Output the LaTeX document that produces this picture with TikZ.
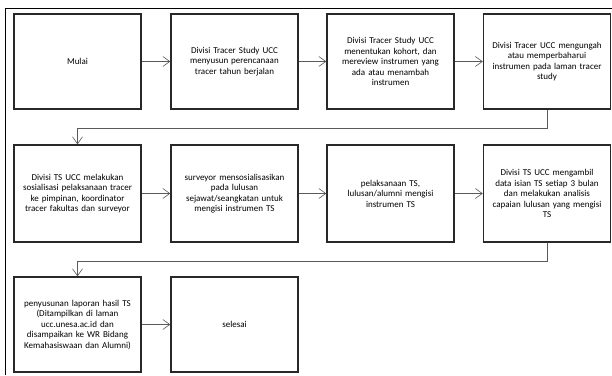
\documentclass[tikz,border=0pt]{standalone}
\usepackage{fontspec}
\setmainfont{Carlito}
\usepackage{tikz}
\usetikzlibrary{positioning, arrows.meta, calc}
\definecolor{boxline}{RGB}{40, 40, 40}
\definecolor{arrowgray}{RGB}{90, 90, 90}

\begin{document}
\begin{tikzpicture}[x=1pt, y=-1pt, font=\fontsize{9}{10.5}\selectfont,
    >={Straight Barb[length=7pt, width=10pt]},
    tahap/.style={draw=boxline, line width=1.4pt, minimum width=127pt,
      minimum height=95pt, text width=120pt, align=center, inner sep=2pt},
    panah/.style={->, arrowgray, line width=0.6pt}]
  \useasboundingbox (0,0) rectangle (612,375);
  % bingkai
  \draw[line width=0.8pt] (5,375) -- (5,8) -- (612,8);

  % baris 1
  \node[tahap] (mulai) at (77.5, 61.5) {Mulai};
  \node[tahap] (rencana) at (234.5, 61.5)
        {Divisi Tracer Study UCC\\ menyusun perencanaan\\ tracer tahun berjalan};
  \node[tahap] (kohort) at (390.5, 61.5)
        {Divisi Tracer Study UCC\\ menentukan kohort, dan\\ mereview instrumen yang\\ ada atau menambah\\ instrumen};
  \node[tahap] (unggah) at (547, 61.5)
        {Divisi Tracer UCC mengungah\\ atau memperbaharui\\ instrumen pada laman tracer\\ study};

  % baris 2
  \node[tahap, minimum height=97pt] (sosialisasi) at (77.5, 193.5)
        {Divisi TS UCC melakukan\\ sosialisasi pelaksanaan tracer\\ ke pimpinan, koordinator\\ tracer fakultas dan surveyor};
  \node[tahap, minimum height=97pt] (surveyor) at (234.5, 193.5)
        {surveyor mensosialisasikan\\ pada lulusan\\ sejawat/seangkatan untuk\\ mengisi instrumen TS};
  \node[tahap, minimum height=97pt] (pelaksanaan) at (390.5, 193.5)
        {pelaksanaan TS,\\ lulusan/alumni mengisi\\ instrumen TS};
  \node[tahap, minimum height=97pt] (analisis) at (547, 193.5)
        {Divisi TS UCC mengambil\\ data isian TS setiap 3 bulan\\ dan melakukan analisis\\ capaian lulusan yang mengisi\\ TS};

  % baris 3
  \node[tahap] (laporan) at (77.5, 324.5)
        {penyusunan laporan hasil TS\\ (Ditampilkan di laman\\ ucc.unesa.ac.id dan\\ disampaikan ke WR Bidang\\ Kemahasiswaan dan Alumni)};
  \node[tahap] (selesai) at (234.5, 324.5) {selesai};

  % panah
  \draw[panah] (mulai) -- (rencana);
  \draw[panah] (rencana) -- (kohort);
  \draw[panah] (kohort) -- (unggah);
  \draw[panah] (unggah.south) -- ++(0,19) -| (sosialisasi.north);
  \draw[panah] (sosialisasi) -- (surveyor);
  \draw[panah] (surveyor) -- (pelaksanaan);
  \draw[panah] (pelaksanaan) -- (analisis);
  \draw[panah] (analisis.south) -- ++(0,19) -| (laporan.north);
  \draw[panah] (laporan) -- (selesai);
\end{tikzpicture}
\end{document}
